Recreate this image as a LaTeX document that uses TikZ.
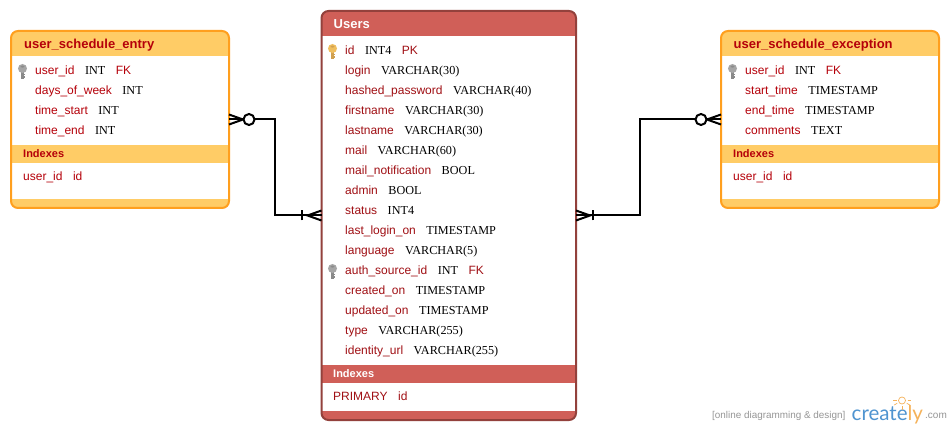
\documentclass[tikz,border=0pt]{standalone}
\usepackage{fontspec}
\setmainfont{Liberation Sans}
\newfontfamily\typefont{Liberation Serif}
\newfontfamily\logofont{Lato}
\definecolor{orangeline}{HTML}{FF9F1E}
\definecolor{orangefill}{HTML}{FFCC66}
\definecolor{redline}{HTML}{93413C}
\definecolor{redfill}{HTML}{D05F58}
\definecolor{fieldred}{HTML}{B5000A}
\definecolor{usersred}{HTML}{A00F14}
\definecolor{logoblue}{HTML}{4F94D0}
\definecolor{logoorange}{HTML}{F5B25A}
\definecolor{logogrey}{HTML}{969696}
\definecolor{keygold}{HTML}{EFBE5E}
\definecolor{keygolddark}{HTML}{D0A050}
\definecolor{keygrey}{HTML}{A6A6A6}
\definecolor{keygreydark}{HTML}{8A8A8A}
\tikzset{
  x=1pt,y=-1pt,
  tableframe/.style={draw,line width=2pt,rounded corners=7pt,inner sep=0pt,outer sep=0pt,minimum width=#1},
  fieldrow/.style={anchor=base west,inner sep=0pt,font=\fontsize{12}{14}\selectfont,text=fieldred},
  userrow/.style={fieldrow,text=usersred},
  titlerow/.style={anchor=base west,inner sep=0pt,font=\fontsize{13}{15}\selectfont\bfseries},
  bandrow/.style={anchor=base west,inner sep=0pt,font=\fontsize{11}{13}\selectfont\bfseries},
  link/.style={draw=black,line width=2pt},
  crow/.style={draw=black,line width=2pt},
  zeromark/.style={circle,draw=black,fill=white,line width=2pt,minimum size=11pt,inner sep=0pt},
}
\newcommand{\ty}[1]{\hspace{10.5pt}{\typefont\fontsize{12.2}{14}\selectfont\textcolor{black}{#1}}}
\newcommand{\fl}[1]{\hspace{10.5pt}#1}
\newcommand{\sname}[1]{\detokenize{#1}}
% \keyicon{x}{y-top}{head colour}{shaft colour}
\newcommand{\keyicon}[4]{%
  \fill[#4] (#1-1.3,#2+7) rectangle (#1+1.3,#2+15);
  \fill[#4] (#1+1.3,#2+10) rectangle (#1+2.3,#2+11.2);
  \fill[#4] (#1+1.3,#2+12.4) rectangle (#1+2.3,#2+13.6);
  \fill[#3] (#1,#2+4.5) circle[radius=4.5pt];
  \fill[#4] (#1,#2+2.6) ellipse[x radius=2pt,y radius=1pt];
}
\newcommand{\tablebody}[8]{%
  \begin{scope}
    \clip[rounded corners=7pt] (#1,#3) rectangle (#2,#8);
    \fill[white] (#1,#3) rectangle (#2,#8);
    \fill[#7] (#1,#3) rectangle (#2,#4);
    \fill[#7] (#1,#5) rectangle (#2,#6);
    \fill[#7] (#1,#8-9) rectangle (#2,#8);
  \end{scope}
}
\begin{document}
\begin{tikzpicture}
\useasboundingbox (0,0) rectangle (950,430);
\fill[white] (0,0) rectangle (950,430);

% ---- bodies
\tablebody{11}{229}{31}{56}{145}{163}{orangefill}{208}
\tablebody{721}{939}{31}{56}{145}{163}{orangefill}{208}
\tablebody{321.5}{576}{11}{36}{365}{383}{redfill}{420}

% ---- frames
\node[tableframe=218pt,draw=orangeline,minimum height=177pt] (entry) at (120,119.5) {};
\node[tableframe=218pt,draw=orangeline,minimum height=177pt] (exception) at (830,119.5) {};
\node[tableframe=254.5pt,draw=redline,minimum height=409pt] (users) at (448.75,215.5) {};

% ---- connectors
\coordinate (entrycrow) at ([xshift=14pt]entry.east);
\coordinate (usersleftcrow) at ([xshift=-14pt]users.west);
\coordinate (usersrightcrow) at ([xshift=14pt]users.east);
\coordinate (exceptioncrow) at ([xshift=-14pt]exception.west);
\path[link] (entry.east) -- ++(46,0) |- (users.west);
\path[link] (users.east) -- ++(64,0) |- (exception.west);
\draw[crow] ([yshift=-5pt]entry.east) -- (entrycrow) -- ([yshift=5pt]entry.east);
\draw[crow] ([yshift=-5pt]users.west) -- (usersleftcrow) -- ([yshift=5pt]users.west);
\draw[crow] ([yshift=-5pt]users.east) -- (usersrightcrow) -- ([yshift=5pt]users.east);
\draw[crow] ([yshift=-5pt]exception.west) -- (exceptioncrow) -- ([yshift=5pt]exception.west);
\node[zeromark] (entryzero) at ([xshift=20pt]entry.east) {};
\node[zeromark] (exceptionzero) at ([xshift=-20pt]exception.west) {};
\draw[crow,line width=1.5pt] ([xshift=-19.5pt,yshift=-5pt]users.west) -- ([xshift=-19.5pt,yshift=5pt]users.west);
\draw[crow,line width=1.5pt] ([xshift=17pt,yshift=-5pt]users.east) -- ([xshift=17pt,yshift=5pt]users.east);

% ---- user_schedule_entry
\node[titlerow,text=fieldred] (e0) at (24,48.3) {\sname{user_schedule_entry}};
\keyicon{22.5}{64}{keygrey}{keygreydark}
\node[fieldrow] (e1) at (35,74.6) {\sname{user_id}\ty{INT}\fl{FK}};
\node[fieldrow] (e2) at (35,94.6) {\sname{days_of_week}\ty{INT}};
\node[fieldrow] (e3) at (35,114.6) {\sname{time_start}\ty{INT}};
\node[fieldrow] (e4) at (35,134.6) {\sname{time_end}\ty{INT}};
\node[bandrow,text=fieldred] (e5) at (23,157.6) {Indexes};
\node[fieldrow] (e6) at (23,180.6) {\sname{user_id}\fl{id}};

% ---- user_schedule_exception
\node[titlerow,text=fieldred] (x0) at (733.5,48.3) {\sname{user_schedule_exception}};
\keyicon{732.5}{64}{keygrey}{keygreydark}
\node[fieldrow] (x1) at (745,74.6) {\sname{user_id}\ty{INT}\fl{FK}};
\node[fieldrow] (x2) at (745,94.6) {\sname{start_time}\ty{TIMESTAMP}};
\node[fieldrow] (x3) at (745,114.6) {\sname{end_time}\ty{TIMESTAMP}};
\node[fieldrow] (x4) at (745,134.6) {\sname{comments}\ty{TEXT}};
\node[bandrow,text=fieldred] (x5) at (733,157.6) {Indexes};
\node[fieldrow] (x6) at (733,180.6) {\sname{user_id}\fl{id}};

% ---- Users
\node[titlerow,text=white] (u0) at (333.5,28.3) {Users};
\keyicon{332.5}{44}{keygold}{keygolddark}
\keyicon{332.5}{264}{keygrey}{keygreydark}
\node[userrow] (u1) at (345,54.6) {id\ty{INT4}\fl{PK}};
\node[userrow] (u2) at (345,74.6) {login\ty{VARCHAR(30)}};
\node[userrow] (u3) at (345,94.6) {\sname{hashed_password}\ty{VARCHAR(40)}};
\node[userrow] (u4) at (345,114.6) {firstname\ty{VARCHAR(30)}};
\node[userrow] (u5) at (345,134.6) {lastname\ty{VARCHAR(30)}};
\node[userrow] (u6) at (345,154.6) {mail\ty{VARCHAR(60)}};
\node[userrow] (u7) at (345,174.6) {\sname{mail_notification}\ty{BOOL}};
\node[userrow] (u8) at (345,194.6) {admin\ty{BOOL}};
\node[userrow] (u9) at (345,214.6) {status\ty{INT4}};
\node[userrow] (u10) at (345,234.6) {\sname{last_login_on}\ty{TIMESTAMP}};
\node[userrow] (u11) at (345,254.6) {language\ty{VARCHAR(5)}};
\node[userrow] (u12) at (345,274.6) {\sname{auth_source_id}\ty{INT}\fl{FK}};
\node[userrow] (u13) at (345,294.6) {\sname{created_on}\ty{TIMESTAMP}};
\node[userrow] (u14) at (345,314.6) {\sname{updated_on}\ty{TIMESTAMP}};
\node[userrow] (u15) at (345,334.6) {type\ty{VARCHAR(255)}};
\node[userrow] (u16) at (345,354.6) {\sname{identity_url}\ty{VARCHAR(255)}};
\node[bandrow,text=white] (u17) at (333,377.6) {Indexes};
\node[userrow] (u18) at (333,400.6) {PRIMARY\fl{id}};

% ---- logo
\node[anchor=base west,inner sep=0pt,text=logogrey,font=\fontsize{9.9}{11}\selectfont] (tagline) at (712,418) {[online diagramming \& design]};
\node[anchor=base west,inner sep=0pt,font=\logofont\fontsize{20.5}{23}\selectfont] (brand) at (851.5,420) {\textcolor{logoblue}{create}\textcolor{logoorange}{ly}};
\node[anchor=base west,inner sep=0pt,text=logogrey,font=\fontsize{10}{12}\selectfont] (dotcom) at (925,418) {.com};
\draw[logoorange,line width=.7pt] (902,400.5) circle[radius=3.5pt];
\foreach \a in {30,90,150,0,180}{\draw[logoorange,line width=.7pt] (902,400.5) ++(-\a:5.5pt) -- ++(-\a:3.5pt);}
\end{tikzpicture}
\end{document}
